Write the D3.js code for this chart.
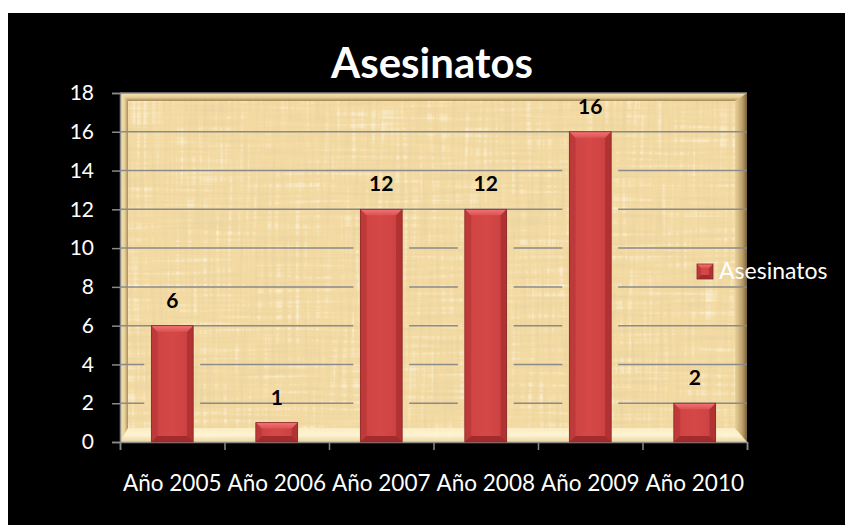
<!DOCTYPE html>
<html>
<head>
<meta charset="utf-8">
<script src="https://cdn.jsdelivr.net/npm/d3@7"></script>
<style>
  html, body { margin: 0; padding: 0; background: #fff; }
  svg { display: block; }
</style>
</head>
<body>
<svg id="chart"></svg>
<script>
// Chart data
const chartTitle = 'Asesinatos';
const seriesName = 'Asesinatos';
const categories = ['Año 2005', 'Año 2006', 'Año 2007', 'Año 2008', 'Año 2009', 'Año 2010'];
const values = [6, 1, 12, 12, 16, 2];
const yTicks = [0, 2, 4, 6, 8, 10, 12, 14, 16, 18];

const W = 845, H = 525;
const font = 'Lato, "Open Sans", sans-serif';

// Plot box
const plot = { left: 120, right: 747, top: 93, bottom: 442 };

const svg = d3.select('#chart').attr('width', W).attr('height', H);
const defs = svg.append('defs');

// Black background with white margin top / left
svg.append('rect').attr('width', W).attr('height', H).attr('fill', '#fff');
svg.append('rect').attr('x', 8).attr('y', 13).attr('width', W - 8).attr('height', H - 13).attr('fill', '#000');

// Scales
const x = d3.scaleBand()
  .domain(categories)
  .range([plot.left, plot.right])
  .paddingInner(0.6)
  .paddingOuter(0.3);

const y = d3.scaleLinear()
  .domain([0, 18])
  .range([plot.bottom, plot.top]);

const tickPos = d3.scaleLinear()
  .domain([0, categories.length])
  .range([plot.left, plot.right]);

// Papyrus texture filter
const f = defs.append('filter').attr('id', 'papyrus')
  .attr('x', 0).attr('y', 0).attr('width', 1).attr('height', 1);
f.append('feTurbulence').attr('type', 'fractalNoise').attr('baseFrequency', '0.25 0.012')
  .attr('numOctaves', 2).attr('seed', 4).attr('result', 'v');
f.append('feTurbulence').attr('type', 'fractalNoise').attr('baseFrequency', '0.012 0.25')
  .attr('numOctaves', 2).attr('seed', 9).attr('result', 'h');
f.append('feComposite').attr('in', 'v').attr('in2', 'h').attr('operator', 'arithmetic')
  .attr('k2', 0.5).attr('k3', 0.5).attr('result', 'n');
f.append('feColorMatrix').attr('in', 'n').attr('type', 'matrix')
  .attr('values', '0 0 0 0 0.76  0 0 0 0 0.62  0 0 0 0 0.36  2.4 0 0 0 -1.22').attr('result', 'dark');
f.append('feColorMatrix').attr('in', 'n').attr('type', 'matrix')
  .attr('values', '0 0 0 0 1  0 0 0 0 0.97  0 0 0 0 0.84  -2.4 0 0 0 1.1').attr('result', 'light');
const fm = f.append('feMerge');
fm.append('feMergeNode').attr('in', 'SourceGraphic');
fm.append('feMergeNode').attr('in', 'light');
fm.append('feMergeNode').attr('in', 'dark');

// gradient helper
function grad(id, x2, y2, stops) {
  const g = defs.append('linearGradient').attr('id', id)
    .attr('x1', 0).attr('y1', 0).attr('x2', x2).attr('y2', y2);
  stops.forEach(s => g.append('stop').attr('offset', s[0]).attr('stop-color', s[1]));
}
grad('gTop', 0, 1, [[0, '#f6e6bb'], [0.55, '#e3cb92'], [1, '#9a7e4c']]);
grad('gLeft', 1, 0, [[0, '#f6e6bb'], [0.6, '#e6cf98'], [1, '#a08450']]);
grad('gBottom', 0, 1, [[0, '#fbeec4'], [0.5, '#fff7d9'], [1, '#e9d49e']]);
grad('gRight', 1, 0, [[0, '#e7d09a'], [0.6, '#b89a62'], [1, '#6b5230']]);
grad('gBar', 1, 0, [[0, '#b03030'], [0.18, '#d04444'], [0.5, '#d64848'], [0.85, '#cc4242'], [1, '#a52c2c']]);
grad('gBarTop', 0, 1, [[0, '#f27474'], [1, '#dc5252']]);

// Plot background
const bg = svg.append('g');
bg.append('rect')
  .attr('x', plot.left).attr('y', plot.top)
  .attr('width', plot.right - plot.left).attr('height', plot.bottom - plot.top)
  .attr('fill', '#f3daa2')
  .attr('filter', 'url(#papyrus)');

// Bevel frame
const L = plot.left, R = plot.right, T = plot.top, B = plot.bottom;
const bw = 8, br = 12, bb = 14;
const bevels = [
  { pts: [[L, T], [R, T], [R - br, T + bw], [L + bw, T + bw]], fill: 'url(#gTop)' },
  { pts: [[L, T], [L + bw, T + bw], [L + bw, B - bb], [L, B]], fill: 'url(#gLeft)' },
  { pts: [[L, B], [L + bw, B - bb], [R - br, B - bb], [R, B]], fill: 'url(#gBottom)' },
  { pts: [[R, T], [R, B], [R - br, B - bb], [R - br, T + bw]], fill: 'url(#gRight)' }
];
bg.selectAll('polygon.bevel')
  .data(bevels)
  .join('polygon')
  .attr('class', 'bevel')
  .attr('points', d => d.pts.map(p => p.join(',')).join(' '))
  .attr('fill', d => d.fill)
  .attr('opacity', 0.9);

// Mask so gridlines break around the bars
const mask = defs.append('mask').attr('id', 'gridMask').attr('maskUnits', 'userSpaceOnUse')
  .attr('x', 0).attr('y', 0).attr('width', W).attr('height', H);
mask.append('rect').attr('width', W).attr('height', H).attr('fill', '#fff');
mask.selectAll('rect.cut')
  .data(values)
  .join('rect')
  .attr('class', 'cut')
  .attr('x', (d, i) => x(categories[i]) - 7)
  .attr('width', x.bandwidth() + 14)
  .attr('y', d => y(d) + 3)
  .attr('height', d => Math.max(0, y(0) - y(d) - 5))
  .attr('fill', '#000');

// Gridlines
svg.append('g')
  .attr('mask', 'url(#gridMask)')
  .selectAll('line')
  .data(yTicks.filter(t => t > 0))
  .join('line')
  .attr('x1', plot.left).attr('x2', plot.right)
  .attr('y1', d => y(d)).attr('y2', d => y(d))
  .attr('stroke', '#8a8a8a')
  .attr('stroke-width', 1.5);

// Y axis
const yAxis = svg.append('g')
  .attr('transform', `translate(${plot.left},0)`)
  .call(d3.axisLeft(y).tickValues(yTicks).tickSize(8).tickPadding(18));
yAxis.select('.domain').attr('stroke', '#8a8a8a').attr('stroke-width', 1.5);
yAxis.selectAll('.tick line').attr('stroke', '#8a8a8a').attr('stroke-width', 1.5);
yAxis.selectAll('.tick text')
  .attr('fill', '#fff')
  .style('font-family', font)
  .style('font-size', '21px');

// X axis: boundary ticks
const xTicks = svg.append('g')
  .attr('transform', `translate(0,${plot.bottom})`)
  .call(d3.axisBottom(tickPos).tickValues(d3.range(categories.length + 1)).tickSize(8).tickFormat(''));
xTicks.select('.domain').attr('stroke', '#8a8a8a').attr('stroke-width', 1.5);
xTicks.selectAll('.tick line').attr('stroke', '#8a8a8a').attr('stroke-width', 1.5);

// X axis: category labels
const xLabels = svg.append('g')
  .attr('transform', `translate(0,${plot.bottom})`)
  .call(d3.axisBottom(x).tickSize(0).tickPadding(33));
xLabels.select('.domain').remove();
xLabels.selectAll('.tick text')
  .attr('fill', '#fff')
  .style('font-family', font)
  .style('font-size', '22.5px');

// Bevelled bar
function drawBar(g, bx, by, w, h, b) {
  g.append('rect').attr('x', bx).attr('y', by).attr('width', w).attr('height', h)
    .attr('fill', 'url(#gBar)');
  const poly = (pts, fill) => g.append('polygon')
    .attr('points', pts.map(p => p.join(',')).join(' ')).attr('fill', fill);
  poly([[bx, by], [bx + b, by + b], [bx + b, by + h - b], [bx, by + h]], '#be3a3a');
  poly([[bx + w, by], [bx + w - b, by + b], [bx + w - b, by + h - b], [bx + w, by + h]], '#b03232');
  poly([[bx, by + h], [bx + w, by + h], [bx + w - b, by + h - b], [bx + b, by + h - b]], '#a22c2c');
  poly([[bx, by], [bx + w, by], [bx + w - b, by + b], [bx + b, by + b]], 'url(#gBarTop)');
  g.append('rect').attr('x', bx).attr('y', by).attr('width', w).attr('height', h)
    .attr('fill', 'none').attr('stroke', '#8a2828').attr('stroke-width', 0.8);
}

const bars = svg.append('g');
values.forEach((v, i) => {
  const h = y(0) - y(v);
  drawBar(bars.append('g'), x(categories[i]), y(v), x.bandwidth(), h, Math.min(6, h / 2.5));
});

// Data labels
svg.append('g')
  .selectAll('text')
  .data(values)
  .join('text')
  .attr('x', (d, i) => x(categories[i]) + x.bandwidth() / 2)
  .attr('y', d => y(d) - 18)
  .attr('text-anchor', 'middle')
  .attr('fill', '#000')
  .style('font-family', font)
  .style('font-weight', 700)
  .style('font-size', '21px')
  .text(d => d);

// Title
svg.append('text')
  .attr('x', 432)
  .attr('y', 78)
  .attr('text-anchor', 'middle')
  .attr('fill', '#fff')
  .style('font-family', font)
  .style('font-weight', 700)
  .style('font-size', '42px')
  .text(chartTitle);

// Legend
const legend = svg.append('g');
drawBar(legend.append('g'), 697, 264, 16, 15, 4);
legend.append('text')
  .attr('x', 719)
  .attr('y', 279)
  .attr('fill', '#fff')
  .style('font-family', font)
  .style('font-size', '23px')
  .text(seriesName);
</script>
</body>
</html>
